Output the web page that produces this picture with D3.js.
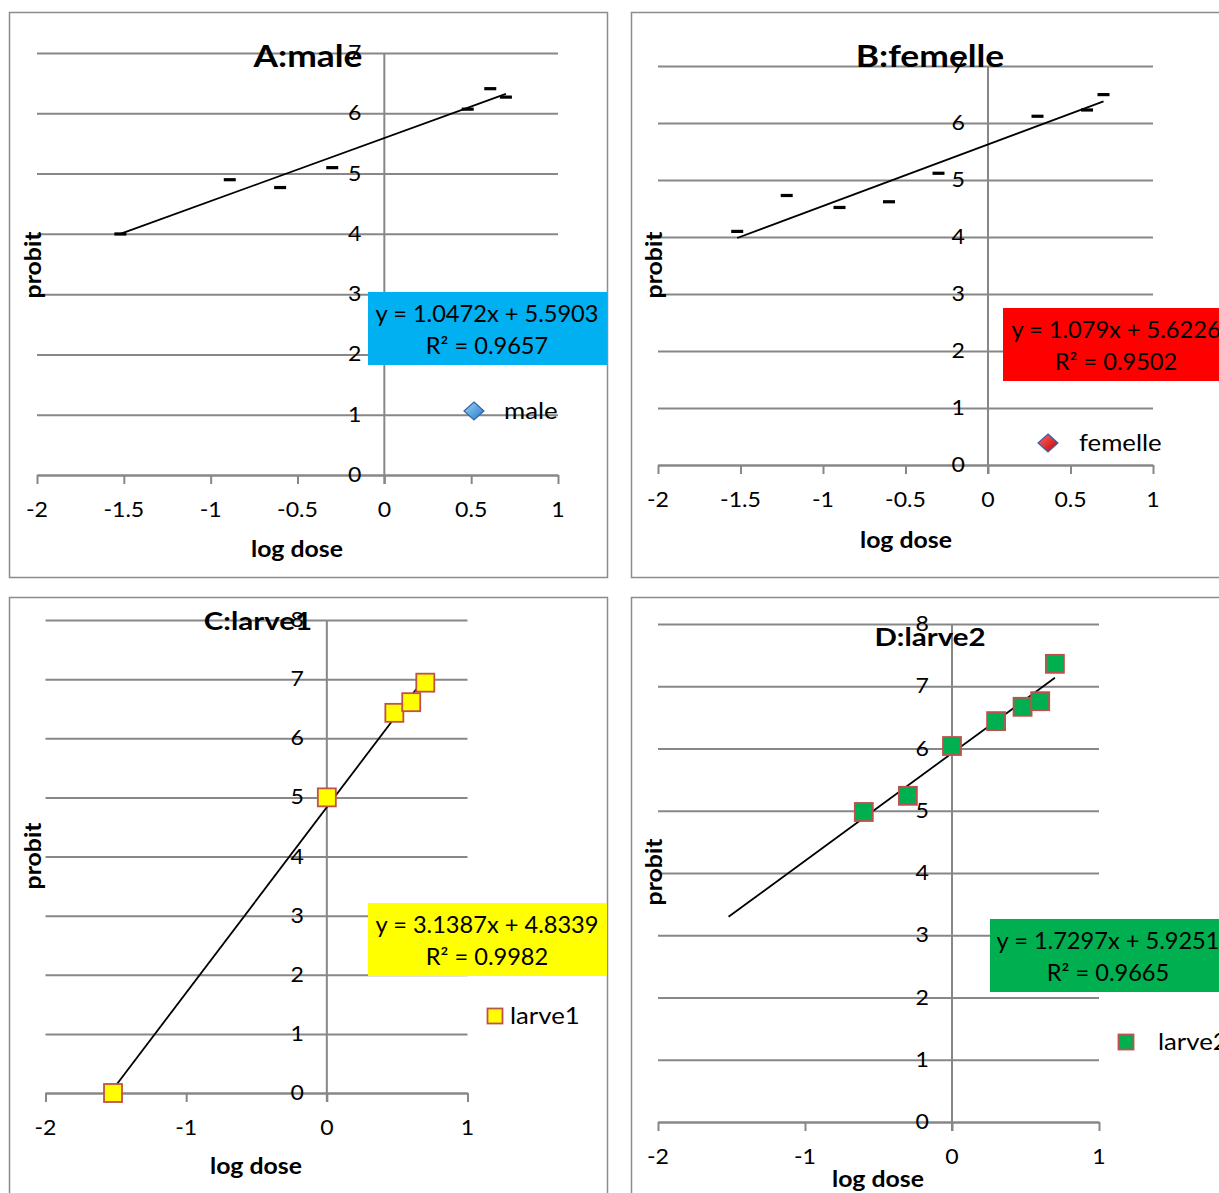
<!DOCTYPE html>
<html><head><meta charset="utf-8">
<script src="https://cdn.jsdelivr.net/npm/d3@7"></script>
<style>body{margin:0;background:#fff} svg{display:block} text{font-family:Lato,'Open Sans',sans-serif;fill:#000}</style>
</head><body><svg id="c" width="1219" height="1193"></svg>
<script>
// ---------- data ----------
const xTicksAB = [-2, -1.5, -1, -0.5, 0, 0.5, 1];
const xTicksCD = [-2, -1, 0, 1];
const yTicksAB = [0, 1, 2, 3, 4, 5, 6, 7];
const yTicksCD = [0, 1, 2, 3, 4, 5, 6, 7, 8];

const maleX = [-1.52, -0.89, -0.60, -0.30, 0.48, 0.61, 0.70];
const maleY = [4.00, 4.90, 4.77, 5.10, 6.07, 6.41, 6.27];
const femelleX = [-1.52, -1.22, -0.90, -0.60, -0.30, 0.30, 0.60, 0.70];
const femelleY = [4.10, 4.73, 4.52, 4.62, 5.12, 6.12, 6.23, 6.50];
const larve1X = [-1.52, 0.00, 0.48, 0.60, 0.70];
const larve1Y = [0.00, 5.00, 6.43, 6.61, 6.94];
const larve2X = [-0.60, -0.30, 0.00, 0.30, 0.48, 0.60, 0.70];
const larve2Y = [4.98, 5.24, 6.04, 6.44, 6.67, 6.76, 7.36];

const titles = ["A:male", "B:femelle", "C:larve1", "D:larve2"];
const seriesNames = ["male", "femelle", "larve1", "larve2"];
const slopes = [1.0472, 1.079, 3.1387, 1.7297];
const intercepts = [5.5903, 5.6226, 4.8339, 5.9251];
const equations = ["y = 1.0472x + 5.5903", "y = 1.079x + 5.6226", "y = 3.1387x + 4.8339", "y = 1.7297x + 5.9251"];
const r2Labels = ["R² = 0.9657", "R² = 0.9502", "R² = 0.9982", "R² = 0.9665"];
const trendRange = [-1.52, 0.70];
const xAxisTitle = "log dose";
const yAxisTitle = "probit";

// ---------- layout ----------
const svg = d3.select("#c");
const defs = svg.append("defs");
function grad(id, c1, c2) {
  const g = defs.append("linearGradient").attr("id", id).attr("x1", "0").attr("y1", "0").attr("x2", "1").attr("y2", "1");
  g.append("stop").attr("offset", "0").attr("stop-color", c1);
  g.append("stop").attr("offset", "1").attr("stop-color", c2);
}
grad("gBlue", "#9fd6fb", "#1f78c8");
grad("gRed", "#ff6a6a", "#c00000");

// text helper: horizontally stretched text (reference glyphs are wide)
function txt(g, x, y, s, size, opts = {}) {
  const sx = opts.sx || 1, rot = opts.rot || 0;
  return g.append("text")
    .attr("transform", `translate(${x},${y})${rot ? ` rotate(${rot})` : ""} scale(${sx},1)`)
    .attr("text-anchor", opts.anchor || "start")
    .style("font-size", size + "px").style("font-weight", opts.bold ? "bold" : "normal")
    .text(s);
}

const panels = [
  { xs: maleX, ys: maleY, frame: [9.5, 12.5, 598, 565], xr: [37, 558], yr: [475, 53], yd: [0, 7],
    xt: xTicksAB, yt: yTicksAB, marker: "dash", title: [308, 67], titleSize: 30, xtitle: [297, 557], ytitle: [33, 265],
    box: [368, 292, 239, 73], boxCol: "#00b0f0", eqX: 487, leg: [474, 411, 504], legType: "dBlue" },
  { xs: femelleX, ys: femelleY, frame: [631.5, 12.5, 620, 565], xr: [658, 1153], yr: [465, 66], yd: [0, 7],
    xt: xTicksAB, yt: yTicksAB, marker: "dash", title: [930, 67], titleSize: 30, xtitle: [906, 548], ytitle: [654, 265],
    box: [1003, 308, 230, 73], boxCol: "#ff0000", eqX: 1116, leg: [1048, 443, 1079], legType: "dRed" },
  { xs: larve1X, ys: larve1Y, frame: [9.5, 597.5, 598, 620], xr: [45.5, 467.5], yr: [1093, 620], yd: [0, 8],
    xt: xTicksCD, yt: yTicksCD, marker: "sqY", title: [258, 630], titleSize: 25, xtitle: [256, 1174], ytitle: [33, 856],
    box: [368, 903, 239, 73], boxCol: "#ffff00", eqX: 487, leg: [495, 1016, 510], legType: "sqY" },
  { xs: larve2X, ys: larve2Y, frame: [631.5, 597.5, 620, 620], xr: [658, 1099], yr: [1122, 624], yd: [0, 8],
    xt: xTicksCD, yt: yTicksCD, marker: "sqG", title: [930, 646], titleSize: 25, xtitle: [878, 1187], ytitle: [654, 872],
    box: [990, 919, 240, 73], boxCol: "#00b050", eqX: 1108, leg: [1126, 1042, 1158], legType: "sqG" }
];

const GRID = "#878787";

panels.forEach((p, i) => {
  const g = svg.append("g");
  const x = d3.scaleLinear().domain([-2, 1]).range(p.xr);
  const y = d3.scaleLinear().domain(p.yd).range(p.yr);
  // frame
  g.append("rect").attr("x", p.frame[0]).attr("y", p.frame[1]).attr("width", p.frame[2]).attr("height", p.frame[3])
    .attr("fill", "#fff").attr("stroke", "#8c8c8c").attr("stroke-width", 1.5);
  // horizontal gridlines
  g.append("g").attr("transform", `translate(${p.xr[0]},0)`)
    .call(d3.axisLeft(y).tickValues(p.yt).tickSize(-(p.xr[1] - p.xr[0])).tickFormat(""))
    .call(a => a.select(".domain").remove())
    .call(a => a.selectAll("line").attr("stroke", GRID).attr("stroke-width", 2));
  // x axis with ticks (at y=0)
  const xa = g.append("g").attr("transform", `translate(0,${y(0)})`)
    .call(d3.axisBottom(x).tickValues(p.xt).tickSize(9).tickSizeOuter(0).tickFormat(""));
  xa.select(".domain").attr("stroke", GRID).attr("stroke-width", 2);
  xa.selectAll("line").attr("stroke", GRID).attr("stroke-width", 2);
  // y axis (vertical at x=0)
  g.append("line").attr("x1", x(0)).attr("x2", x(0)).attr("y1", y(p.yd[1])).attr("y2", y(0) + 9)
    .attr("stroke", GRID).attr("stroke-width", 2);
  // tick labels
  p.xt.forEach(d => txt(g, x(d), y(0) + 42, String(d), 21, { anchor: "middle", sx: 1.1 }));
  p.yt.forEach(d => txt(g, x(0) - 23, y(d) + 7, String(d), 21, { anchor: "end", sx: 1.1 }));
  // axis titles
  txt(g, p.xtitle[0], p.xtitle[1], xAxisTitle, 23, { anchor: "middle", bold: true, sx: 1.08 });
  txt(g, p.ytitle[0] + 8, p.ytitle[1], yAxisTitle, 23, { anchor: "middle", bold: true, sx: 1.08, rot: -90 });
  // trendline
  g.append("line").attr("x1", x(trendRange[0])).attr("y1", y(slopes[i] * trendRange[0] + intercepts[i]))
    .attr("x2", x(trendRange[1])).attr("y2", y(slopes[i] * trendRange[1] + intercepts[i]))
    .attr("stroke", "#000").attr("stroke-width", 1.8);
  // markers
  const pts = p.xs.map((v, k) => [v, p.ys[k]]);
  if (p.marker === "dash") {
    g.selectAll(".m").data(pts).enter().append("rect")
      .attr("x", d => x(d[0]) - 6).attr("y", d => y(d[1]) - 1.5).attr("width", 12).attr("height", 3.2).attr("fill", "#000");
  } else {
    const fill = p.marker === "sqY" ? "#ffff00" : "#00b050";
    g.selectAll(".m").data(pts).enter().append("rect")
      .attr("x", d => x(d[0]) - 9).attr("y", d => y(d[1]) - 9).attr("width", 18).attr("height", 18)
      .attr("fill", fill).attr("stroke", "#c0504d").attr("stroke-width", 1.8);
  }
  // title
  txt(g, p.title[0], p.title[1], titles[i], p.titleSize, { anchor: "middle", bold: true, sx: 1.18 });
  // equation box
  g.append("rect").attr("x", p.box[0]).attr("y", p.box[1]).attr("width", p.box[2]).attr("height", p.box[3]).attr("fill", p.boxCol);
  txt(g, p.eqX, p.box[1] + 30, equations[i], 22.5, { anchor: "middle", sx: 1.05 });
  txt(g, p.eqX, p.box[1] + 62, r2Labels[i], 22.5, { anchor: "middle", sx: 1.05 });
  // legend
  const [lx, ly, tx] = p.leg;
  if (p.legType === "dBlue" || p.legType === "dRed") {
    g.append("path").attr("d", `M${lx},${ly - 9}L${lx + 10},${ly}L${lx},${ly + 9}L${lx - 10},${ly}Z`)
      .attr("fill", p.legType === "dBlue" ? "url(#gBlue)" : "url(#gRed)").attr("stroke", "#3b64a0").attr("stroke-width", 1.2);
  } else {
    g.append("rect").attr("x", lx - 7.5).attr("y", ly - 7.5).attr("width", 15).attr("height", 15)
      .attr("fill", p.legType === "sqY" ? "#ffff00" : "#00b050").attr("stroke", "#c0504d").attr("stroke-width", 1.8);
  }
  txt(g, tx, ly + 8, seriesNames[i], 23, { sx: 1.12 });
});
</script>
</body></html>
